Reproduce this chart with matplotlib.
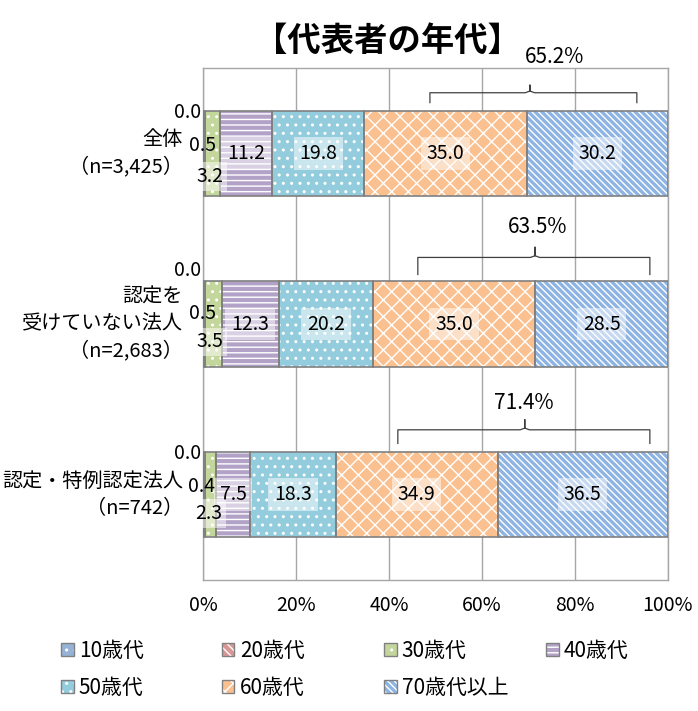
import matplotlib
matplotlib.use("Agg")
import matplotlib.pyplot as plt
from matplotlib.patches import Patch
from matplotlib.legend_handler import HandlerTuple
import numpy as np

plt.rcParams['font.family'] = ['Noto Sans CJK JP', 'DejaVu Sans']
plt.rcParams['hatch.linewidth'] = 1.0

# ---------------- data ----------------
title = "【代表者の年代】"
categories = ["全体\n（n=3,425）", "認定を\n受けていない法人\n（n=2,683）", "認定・特例認定法人\n（n=742）"]
series = ["10歳代", "20歳代", "30歳代", "40歳代", "50歳代", "60歳代", "70歳代以上"]
v10 = [0.0, 0.0, 0.0]
v20 = [0.5, 0.5, 0.4]
v30 = [3.2, 3.5, 2.3]
v40 = [11.2, 12.3, 7.5]
v50 = [19.8, 20.2, 18.3]
v60 = [35.0, 35.0, 34.9]
v70 = [30.2, 28.5, 36.5]
totals_60plus = [65.2, 63.5, 71.4]
xticks = [0, 20, 40, 60, 80, 100]
xticklabels = ["0%", "20%", "40%", "60%", "80%", "100%"]

values = [v10, v20, v30, v40, v50, v60, v70]
colors = ["#95b3d7", "#d99694", "#c3d69b", "#b3a2c7", "#93cddd", "#fac090", "#8eb4e3"]
hatches = ["..", "\\\\\\\\", "..", "---", "..", "xx", "\\\\\\\\\\"]
edge = "#808080"
FS = 14

fig = plt.figure(figsize=(6.98, 7.11), dpi=100)
ax = fig.add_axes([203/698, 1-580/711, 465/698, 512/711])

y = np.arange(len(categories))
h = 0.5
left = np.zeros(len(categories))
handles = []
for i, (vals, c, ht) in enumerate(zip(values, colors, hatches)):
    vals = np.array(vals)
    ax.barh(y, vals, left=left, height=h, color=c, edgecolor="white",
            hatch=ht, linewidth=0, zorder=2)
    ax.barh(y, vals, left=left, height=h, fill=False, edgecolor=edge,
            linewidth=1.2, zorder=3)
    p1 = Patch(facecolor=c, edgecolor="white", hatch=ht, linewidth=0)
    p2 = Patch(fill=False, edgecolor=edge, linewidth=1.0)
    handles.append((p1, p2))
    if i >= 3:
        for j in range(len(categories)):
            ax.text(left[j] + vals[j] / 2, y[j], f"{vals[j]:.1f}", ha="center",
                    va="center", fontsize=FS, zorder=5,
                    bbox=dict(boxstyle="square,pad=0.3", fc="white", ec="none", alpha=0.5))
    left = left + vals

# small segment labels (manually offset as in the original)
off_00 = [-0.24, -0.316, -0.24]
off_20 = [-0.047, -0.064, -0.047]
off_30 = [0.135, 0.105, 0.11]
x_20 = [-0.2, -0.2, -0.4]
x_30 = [1.5, 1.5, 1.3]
for j in range(len(categories)):
    ax.text(-0.3, y[j] + off_00[j], f"{v10[j]:.1f}", ha="right", va="center",
            fontsize=FS, zorder=5, clip_on=False)
    ax.text(x_20[j], y[j] + off_20[j], f"{v20[j]:.1f}", ha="center", va="center",
            fontsize=FS, zorder=5, clip_on=False)
    ax.text(x_30[j], y[j] + off_30[j], f"{v30[j]:.1f}", ha="center", va="center",
            fontsize=FS, zorder=5,
            bbox=dict(boxstyle="square,pad=0.2", fc="white", ec="none", alpha=0.5))

# brackets for 60+ totals
br = [  # x_start, x_end, x_peak, y_h, y_end, y_peak, label_x, label_y
    (48.8, 93.3, 70.3, -0.355, -0.297, -0.40, 75.5, -0.565),
    (46.2, 96.1, 71.4, -0.39, -0.29, -0.45, 72.0, -0.57),
    (41.9, 96.1, 69.2, -0.38, -0.30, -0.44, 69.0, -0.54),
]
for j, (xs, xe, xp, yh, ye, yp, lx, ly) in enumerate(br):
    yc = y[j]
    ax.plot([xs, xs, xp - 1, xp, xp, xp, xp + 1, xe, xe],
            [yc + ye, yc + yh, yc + yh, yc + yh - 0.01, yc + yp, yc + yh - 0.01, yc + yh, yc + yh, yc + ye],
            color="#404040", lw=0.9, zorder=6, clip_on=False)
    ax.text(lx, yc + ly, f"{totals_60plus[j]:.1f}%", ha="center", va="center",
            fontsize=15, zorder=6, clip_on=False)

ax.set_xlim(0, 100)
ax.set_ylim(2.5, -0.5)
ax.set_xticks(xticks)
ax.set_xticklabels(xticklabels, fontsize=FS)
ax.set_yticks([])
ax.tick_params(axis="x", length=0, pad=11)
ax.grid(axis="x", color="#a6a6a6", lw=1.0, zorder=0)
for s in ax.spines.values():
    s.set_color("#a6a6a6")
    s.set_linewidth(1.0)

for j, lab in enumerate(categories):
    ax.text(-4.3, y[j], lab, ha="right", va="center", fontsize=14.5,
            linespacing=1.38, multialignment="right", clip_on=False)

fig.text(388/698, 1-41/711, title, ha="center", va="center", fontsize=24,
         fontweight="bold")

# legend: one small legend per column, placed at the original column positions
col_x = [61, 222, 384, 546]
cols = [[0, 4], [1, 5], [2, 6], [3]]
for cx, idx in zip(col_x, cols):
    lg = fig.legend([handles[k] for k in idx], [series[k] for k in idx],
                    handler_map={tuple: HandlerTuple(ndivide=1, pad=0)},
                    loc="upper left", bbox_to_anchor=(cx/698, 1-640/711),
                    frameon=False, fontsize=15, handlelength=0.6, handleheight=0.6,
                    handletextpad=0.25, labelspacing=0.72, borderpad=0,
                    borderaxespad=0)

fig.savefig("out.png", dpi=100)
